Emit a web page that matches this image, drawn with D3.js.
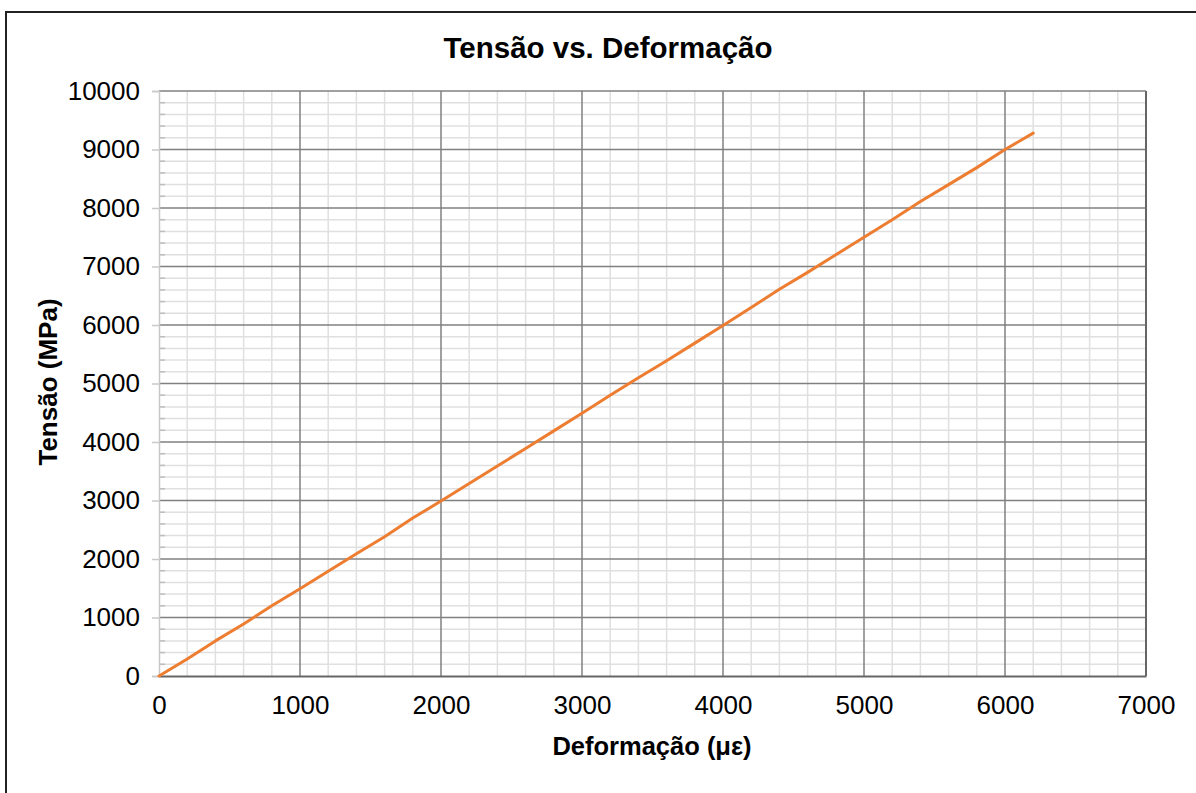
<!DOCTYPE html>
<html>
<head>
<meta charset="utf-8">
<script src="https://cdn.jsdelivr.net/npm/d3@7"></script>
<style>
  html, body { margin: 0; padding: 0; background: #fff; }
  svg { display: block; font-family: "Liberation Sans", Arial, sans-serif; }
</style>
</head>
<body>
<svg id="chart" width="1196" height="793"></svg>
<script>
// Strain (µε) and measured stress (MPa)
const strain = [0, 200, 400, 600, 800, 1000, 1200, 1400, 1600, 1800, 2000, 2200, 2400, 2600, 2800, 3000,
  3200, 3400, 3600, 3800, 4000, 4200, 4400, 4600, 4800, 5000, 5200, 5400, 5600, 5800, 6000, 6200];
const stress = [0, 290, 600, 890, 1200, 1490, 1790, 2090, 2380, 2700, 2990, 3290, 3590, 3890, 4190, 4490,
  4800, 5100, 5390, 5690, 5990, 6300, 6610, 6900, 7200, 7500, 7800, 8110, 8400, 8690, 9000, 9280];
const xTicks = [0, 1000, 2000, 3000, 4000, 5000, 6000, 7000];
const yTicks = [0, 1000, 2000, 3000, 4000, 5000, 6000, 7000, 8000, 9000, 10000];
const minorStep = 200;

const svg = d3.select("#chart");
const plotLeft = 159, plotRight = 1146, plotTop = 91, plotBottom = 676;
const font = "'Liberation Sans', Arial, sans-serif";

const x = d3.scaleLinear().domain([0, 7000]).range([plotLeft, plotRight]);
const y = d3.scaleLinear().domain([0, 10000]).range([plotBottom, plotTop]);

// Outer frame
svg.append("rect").attr("x", 6).attr("y", 12).attr("width", 1300).attr("height", 900)
  .attr("fill", "none").attr("stroke", "#222").attr("stroke-width", 2);

// Minor grid
const g = svg.append("g");
g.selectAll(".mx").data(d3.range(0, 7001, minorStep).filter(v => v % 1000 !== 0)).join("line")
  .attr("x1", d => x(d)).attr("x2", d => x(d)).attr("y1", plotTop).attr("y2", plotBottom)
  .attr("stroke", "#e0e0e0").attr("stroke-width", 1.5);
g.selectAll(".my").data(d3.range(0, 10001, minorStep).filter(v => v % 1000 !== 0)).join("line")
  .attr("x1", plotLeft).attr("x2", plotRight).attr("y1", d => y(d)).attr("y2", d => y(d))
  .attr("stroke", "#e0e0e0").attr("stroke-width", 1.5);
// Minor tick marks on the y axis
g.selectAll(".mt").data(d3.range(0, 10001, minorStep).filter(v => v % 1000 !== 0)).join("line")
  .attr("x1", plotLeft).attr("x2", plotLeft + 6).attr("y1", d => y(d)).attr("y2", d => y(d))
  .attr("stroke", "#bdbdbd").attr("stroke-width", 1.5);

// Major grid
g.selectAll(".Mx").data(xTicks.filter(v => v > 0)).join("line")
  .attr("x1", d => x(d)).attr("x2", d => x(d)).attr("y1", plotTop).attr("y2", plotBottom)
  .attr("stroke", "#808080").attr("stroke-width", 1.5);
g.selectAll(".My").data(yTicks.filter(v => v > 0)).join("line")
  .attr("x1", plotLeft).attr("x2", plotRight).attr("y1", d => y(d)).attr("y2", d => y(d))
  .attr("stroke", "#808080").attr("stroke-width", 1.5);

// Axes
const yAxis = svg.append("g").attr("transform", `translate(${plotLeft},0)`)
  .call(d3.axisLeft(y).tickValues(yTicks).tickSize(7).tickPadding(12).tickFormat(d3.format("d")));
yAxis.select(".domain").attr("stroke", "#c8c8c8").attr("stroke-width", 1.5);
yAxis.selectAll(".tick line").attr("stroke", "#c8c8c8").attr("stroke-width", 1.5);
yAxis.selectAll("text").attr("font-size", 26).attr("fill", "#000").attr("font-family", font);

const xAxis = svg.append("g").attr("transform", `translate(0,${plotBottom})`)
  .call(d3.axisBottom(x).tickValues(xTicks).tickSize(0).tickPadding(20).tickFormat(d3.format("d")));
xAxis.select(".domain").attr("stroke", "#666").attr("stroke-width", 2);
xAxis.selectAll("text").attr("font-size", 26).attr("fill", "#000").attr("font-family", font);

// Right border of plot area
svg.append("line").attr("x1", plotRight).attr("x2", plotRight).attr("y1", plotTop).attr("y2", plotBottom)
  .attr("stroke", "#666").attr("stroke-width", 2);

// Data line
svg.append("path").datum(strain.map((s, i) => [s, stress[i]]))
  .attr("fill", "none").attr("stroke", "#ED7D31").attr("stroke-width", 3)
  .attr("stroke-linejoin", "round").attr("stroke-linecap", "round")
  .attr("d", d3.line().x(d => x(d[0])).y(d => y(d[1])));

// Titles
svg.append("text").attr("x", 608).attr("y", 58).attr("text-anchor", "middle")
  .attr("font-size", 29.5).attr("font-weight", "bold").attr("font-family", font)
  .text("Tensão vs. Deformação");
svg.append("text").attr("x", 652).attr("y", 755).attr("text-anchor", "middle")
  .attr("font-size", 25.5).attr("font-weight", "bold").attr("font-family", font)
  .text("Deformação (με)");
svg.append("text").attr("transform", "translate(57,382) rotate(-90)").attr("text-anchor", "middle")
  .attr("font-size", 26).attr("font-weight", "bold").attr("font-family", font)
  .text("Tensão (MPa)");
</script>
</body>
</html>
